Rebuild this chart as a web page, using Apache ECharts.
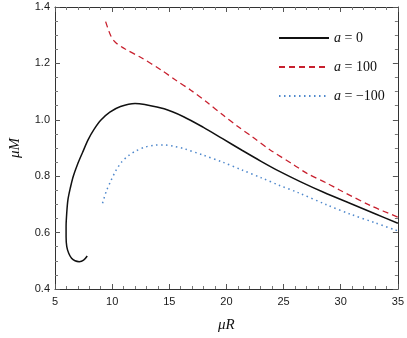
<!DOCTYPE html>
<html>
<head>
<meta charset="utf-8">
<script src="https://cdn.jsdelivr.net/npm/echarts@6/dist/echarts.min.js"></script>
<style>
html,body{margin:0;padding:0;background:#fff;}
#chart{width:407px;height:338px;}
</style>
</head>
<body>
<div id="chart"></div>
<script>
// a = 0 curve (muR, muM), includes the hook at small R
var curveA0 = [
  [7.82,0.517],[7.5,0.502],[7.12,0.497],[6.75,0.5],[6.45,0.509],[6.2,0.527],
  [6.03,0.55],[5.97,0.585],[5.97,0.621],[6.02,0.665],[6.13,0.716],[6.35,0.76],
  [6.6,0.8],[6.95,0.84],[7.42,0.885],[7.88,0.928],[8.4,0.965],[9.02,0.999],
  [9.8,1.027],[10.73,1.047],[12.0,1.058],[12.86,1.054],[14.55,1.039],[16.25,1.011],
  [17.95,0.974],[19.66,0.933],[21.36,0.892],[23.07,0.852],[24.6,0.818],[26.5,0.78],
  [28.5,0.743],[30.8,0.704],[33.0,0.667],[35.0,0.633]
];
// a = 100
var curveA100 = [
  [9.43,1.348],[9.86,1.30],[10.28,1.275],[11.14,1.251],[12.56,1.22],[14.27,1.177],
  [15.55,1.141],[16.85,1.106],[18.3,1.062],[19.7,1.017],[21.0,0.976],[22.26,0.94],
  [23.8,0.894],[25.9,0.84],[27.05,0.81],[28.8,0.775],[29.9,0.751],[32.7,0.694],
  [35.0,0.655]
];
// a = -100
var curveAm100 = [
  [9.16,0.704],[9.5,0.748],[9.87,0.782],[10.3,0.818],[10.8,0.849],[11.4,0.872],
  [12.0,0.888],[12.86,0.903],[13.7,0.91],[14.55,0.911],[15.4,0.906],[16.25,0.898],
  [17.95,0.875],[19.66,0.85],[21.36,0.822],[23.07,0.794],[24.6,0.768],[26.2,0.743],
  [28.8,0.698],[30.8,0.666],[33.0,0.635],[35.0,0.606]
];
var seriesNames = ['a = 0', 'a = 100', 'a = \u2212100'];
var xTicks = [5, 10, 15, 20, 25, 30, 35];
var yTicks = [0.4, 0.6, 0.8, 1.0, 1.2, 1.4];

var chart = echarts.init(document.getElementById('chart'));

var labelFont = {fontFamily:'Liberation Sans', fontSize:11, color:'#1a1a1a'};

function frameAxis(pos, isX){
  return {
    type:'value', position:pos,
    min: isX ? xTicks[0] : yTicks[0],
    max: isX ? xTicks[xTicks.length-1] : yTicks[yTicks.length-1],
    interval: isX ? 5 : 0.2,
    axisLine:{show:true, onZero:false, lineStyle:{color:'#333'}},
    axisTick:{show:true, inside:true, length:5, lineStyle:{color:'#555'}},
    minorTick:{show:true, splitNumber: isX ? 5 : 4, length:3, lineStyle:{color:'#777'}},
    axisLabel:{show:false},
    splitLine:{show:false}
  };
}

var xBottom = frameAxis('bottom', true);
xBottom.axisLabel = Object.assign({show:true, margin:7, formatter:function(v){return v;}}, labelFont);
xBottom.name = '{i|\u03bcR}';
xBottom.nameLocation = 'middle';
xBottom.nameGap = 29;
xBottom.nameTextStyle = {rich:{i:{fontFamily:'Liberation Serif', fontStyle:'italic', fontSize:15, color:'#111'}}};

var yLeft = frameAxis('left', false);
yLeft.axisLabel = Object.assign({show:true, margin:5, formatter:function(v){return v.toFixed(1);}}, labelFont);
yLeft.name = '{i|\u03bcM}';
yLeft.nameLocation = 'middle';
yLeft.nameGap = 32;
yLeft.nameTextStyle = {rich:{i:{fontFamily:'Liberation Serif', fontStyle:'italic', fontSize:15, color:'#111'}}};

var option = {
  animation:false,
  grid:{left:48, right:8, top:7, bottom:49},
  xAxis:[xBottom, frameAxis('top', true)],
  yAxis:[yLeft, frameAxis('right', false)],
  legend:{
    orient:'vertical', left:273, top:26,
    itemWidth:50, itemHeight:14, itemGap:15,
    itemStyle:{opacity:0},
    data:seriesNames,
    formatter:function(n){ return '{i|a}{t|' + n.slice(1) + '}'; },
    textStyle:{
      rich:{
        i:{fontFamily:'Liberation Serif', fontStyle:'italic', fontSize:14, color:'#111'},
        t:{fontFamily:'Liberation Serif', fontSize:14, color:'#111'}
      }
    }
  },
  series:[
    {name:seriesNames[0], type:'line', data:curveA0, symbol:'none', smooth:0.3,
     lineStyle:{color:'#111', width:1.5}, itemStyle:{color:'#111'}},
    {name:seriesNames[1], type:'line', data:curveA100, symbol:'none', smooth:0.3,
     lineStyle:{color:'#c8202e', width:1.3, type:[6,4]}, itemStyle:{color:'#c8202e'}},
    {name:seriesNames[2], type:'line', data:curveAm100, symbol:'none', smooth:0.3,
     lineStyle:{color:'#4f88cc', width:1.5, type:[1.5,3.5]}, itemStyle:{color:'#4f88cc'}}
  ]
};
chart.setOption(option);
</script>
</body>
</html>
